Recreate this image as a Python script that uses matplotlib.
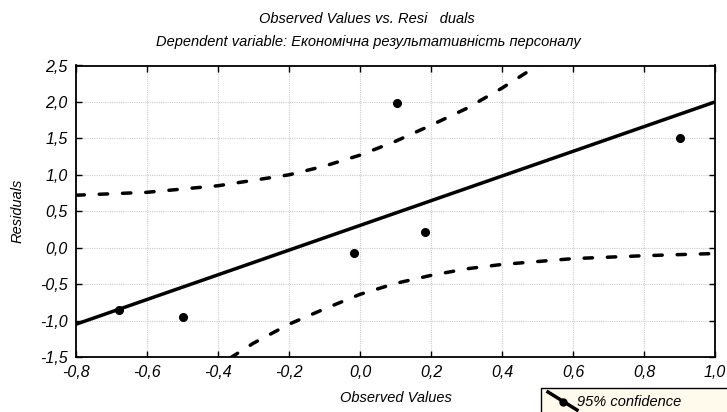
import matplotlib
matplotlib.use("Agg")
import matplotlib.pyplot as plt
from matplotlib.lines import Line2D
from matplotlib.patches import Rectangle
from matplotlib.ticker import FuncFormatter

plt.rcParams['font.family'] = ['Liberation Sans', 'DejaVu Sans']
plt.rcParams['axes.unicode_minus'] = False

obs_x = [-0.678, -0.50, -0.016, 0.103, 0.182, 0.901]
resid = [-0.85, -0.95, -0.07, 1.99, 0.21, 1.50]

# fitted line
fit_x = [-0.8, 1.0]
fit_y = [-1.05, 2.0]

# 95% confidence bands
up_x = [-0.8, -0.6, -0.4, -0.2, -0.1, 0.0, 0.1, 0.2, 0.3, 0.4, 0.5, 0.55]
up_y = [0.72, 0.76, 0.85, 1.0, 1.12, 1.27, 1.46, 1.68, 1.91, 2.19, 2.50, 2.68]
lo_x = [-0.42, -0.4, -0.3, -0.2, -0.1, 0.0, 0.1, 0.2, 0.3, 0.4, 0.6, 0.8, 1.0]
lo_y = [-1.68, -1.62, -1.31, -1.05, -0.84, -0.64, -0.49, -0.38, -0.29, -0.23, -0.15, -0.11, -0.08]

x_ticks = [-0.8, -0.6, -0.4, -0.2, 0.0, 0.2, 0.4, 0.6, 0.8, 1.0]
y_ticks = [-1.5, -1.0, -0.5, 0.0, 0.5, 1.0, 1.5, 2.0, 2.5]

fig = plt.figure(figsize=(7.27, 4.12), dpi=100)
ax = fig.add_axes([76 / 727, 1 - 357 / 412, 639 / 727, 291.5 / 412])

ax.plot(fit_x, fit_y, color='black', lw=2.5, solid_capstyle='butt')
ax.plot(up_x, up_y, color='black', lw=2.5, dashes=(2.4, 4.3), dash_capstyle='round')
ax.plot(lo_x, lo_y, color='black', lw=2.5, dashes=(2.4, 4.3), dash_capstyle='round')
ax.plot(obs_x, resid, 'o', color='black', ms=5.5)

ax.set_xlim(-0.8, 1.0)
ax.set_ylim(-1.5, 2.5)
ax.set_xticks(x_ticks)
ax.set_yticks(y_ticks)
fmt = FuncFormatter(lambda v, p: f"{v:.1f}".replace('.', ','))
ax.xaxis.set_major_formatter(fmt)
ax.yaxis.set_major_formatter(fmt)
ax.tick_params(direction='in', length=4, width=1, top=True, right=True,
               labelsize=11.5, pad=6)
for lab in ax.get_xticklabels() + ax.get_yticklabels():
    lab.set_fontstyle('italic')
ax.grid(True, color='#cccccc', ls=(0, (1, 1)), lw=0.8)
for s in ax.spines.values():
    s.set_linewidth(1.3)

ax.set_xlabel('Observed Values', fontsize=10.5, style='italic', labelpad=8)
ax.set_ylabel('Residuals', fontsize=10.5, style='italic', labelpad=11)

fig.text(0.505, 1 - 23 / 412, 'Observed Values vs. Resi   duals',
         ha='center', va='baseline', fontsize=10.5, style='italic')
fig.text(0.507, 1 - 46 / 412,
         'Dependent variable: Економічна результативність персоналу',
         ha='center', va='baseline', fontsize=10.5, style='italic')

# legend box (partly cut off at bottom right)
fig.patches.append(Rectangle((541 / 727, -0.05), 0.3, 0.05 + (412 - 388) / 412,
                             transform=fig.transFigure, facecolor='#fffaeb',
                             edgecolor='black', lw=1))
fig.lines.append(Line2D([548 / 727, 577 / 727], [1 - 392 / 412, 1 - 410 / 412],
                        transform=fig.transFigure, color='black', lw=2.5))
fig.lines.append(Line2D([563 / 727], [1 - 401.5 / 412], transform=fig.transFigure,
                        marker='o', color='black', ms=5))
fig.text(577 / 727, 1 - 402 / 412, '95% confidence', ha='left', va='center',
         fontsize=10.5, style='italic')

fig.savefig('out.png', dpi=100)
